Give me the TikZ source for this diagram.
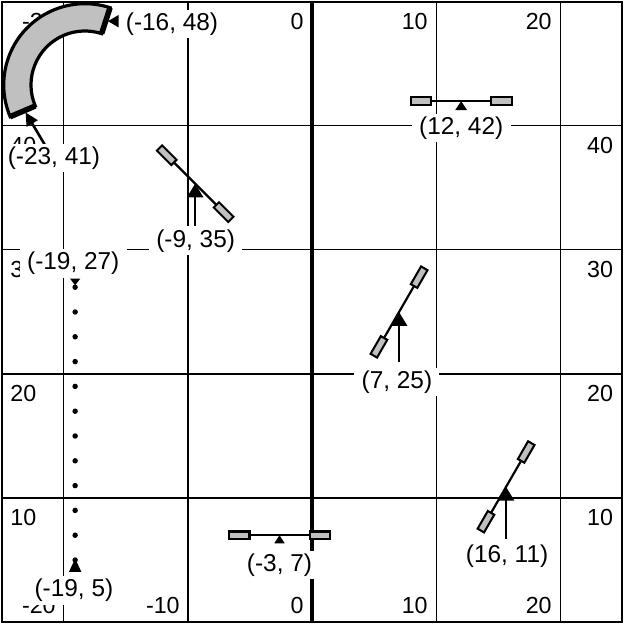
\documentclass[tikz,border=0pt]{standalone}
\usepackage{fontspec}
\setmainfont{Liberation Sans}
\usetikzlibrary{arrows.meta,calc}
\definecolor{bandgray}{RGB}{192,192,192}
\begin{document}
\begin{tikzpicture}[x=0.3cm,y=0.3cm,
  gridline/.style={line width=0.7pt},
  axisline/.style={line width=2.2pt},
  frameline/.style={line width=2pt},
  ticklab/.style={font=\fontsize{16}{19}\selectfont, inner sep=0pt},
  lab/.style={fill=white, inner xsep=5pt, inner ysep=2pt, font=\fontsize{16.8}{19}\selectfont},
  barline/.style={line width=1.5pt},
  endrect/.style={draw, fill=bandgray, line width=1.4pt},
  posearrow/.style={line width=1.8pt, -{Triangle[length=9.5pt,width=11pt]}},
  smallarrow/.style={line width=1.8pt, -{Triangle[length=9pt,width=8.5pt]}},
  band/.style={draw, fill=bandgray, line width=2.2pt},
  pics/wheelbar/.style={code={
     \draw[barline] (-2.42,0) -- (2.42,0);
     \draw[endrect] (-4.07,-0.3) -- (-2.42,-0.3) -- (-2.42,0.3) -- (-4.07,0.3) -- cycle;
     \draw[endrect] (2.42,-0.3) -- (4.07,-0.3) -- (4.07,0.3) -- (2.42,0.3) -- cycle;
  }}
]
\useasboundingbox (-25.16,-0.16) rectangle (25.16,50.16);

% grid
\foreach \x in {-20,-10,10,20} \draw[gridline] (\x,0) -- (\x,50);
\foreach \y in {10,20,30,40} \draw[gridline] (-25,\y) -- (25,\y);
\draw[axisline] (0,0) -- (0,50);

% tick labels
\foreach \x in {-20,-10,0,10,20} {
  \node[ticklab,anchor=east] (xt\x) at (\x-0.65,48.45) {\x};
  \node[ticklab,anchor=east] (xb\x) at (\x-0.65,1.3) {\x};
}
\foreach \y in {10,20,30,40} {
  \node[ticklab,anchor=west] (yl\y) at (-24.35,\y-1.55) {\y};
  \node[ticklab,anchor=east] (yr\y) at (24.3,\y-1.55) {\y};
}

% pose points
\coordinate (pA) at (12.03,42.0);
\coordinate (pB) at (7.02,25.0);
\coordinate (pC) at (15.65,10.9);
\coordinate (pD) at (-9.42,35.35);
\coordinate (pE) at (-2.62,7.0);
\coordinate (pF) at (-19.1,5.1);
\coordinate (pG) at (-19.1,27.15);
\coordinate (pH) at (-16.45,48.45);
\coordinate (pI) at (-23.1,41.1);
\coordinate (arcC) at (-18.31,43.31);
\coordinate (tI) at (-20.9,37.4);

% curved band
\draw[band] ([shift={(72:6.55)}]arcC) arc[start angle=72,end angle=203,radius=6.55]
   -- ([shift={(203:4.35)}]arcC) arc[start angle=203,end angle=72,radius=4.35] -- cycle;
\draw[line width=3.8pt] ([shift={(72:4.35)}]arcC) -- ([shift={(72:6.55)}]arcC);
\draw[line width=3.8pt] ([shift={(203:4.35)}]arcC) -- ([shift={(203:6.55)}]arcC);
\fill (pH) -- ++(0.85,0.5) -- ++(0,-1) -- cycle;
\draw[smallarrow] (tI) -- (pI);

% bars
\pic at (pA) {wheelbar};
\pic at (pE) {wheelbar};
\pic[rotate=60] at (pB) {wheelbar};
\pic[rotate=60] at (pC) {wheelbar};
\pic[rotate=-45] at (pD) {wheelbar};

% small markers
\fill (pA) -- ++(-0.48,-0.72) -- ++(0.96,0) -- cycle;
\fill (pE) -- ++(-0.42,-0.65) -- ++(0.84,0) -- cycle;

% arrows
\draw[posearrow] ($(pB)+(0,-4)$) -- (pB);
\draw[posearrow] ($(pC)+(0,-4.2)$) -- (pC);
\draw[posearrow] ($(pD)+(0,-4)$) -- (pD);

% dotted path
\foreach \y in {5,7,...,27} \fill (-19.1,\y) circle[radius=0.22];
\fill (pF) -- ++(-0.5,-1.05) -- ++(1,0) -- cycle;
\fill (pG) -- ++(-0.42,0.55) -- ++(0.84,0) -- cycle;

% labels
\node[lab] (lH) at (-11.29,48.23) {(-16, 48)};
\node[lab] (lI) at (-20.81,37.42) {(-23, 41)};
\node[lab] (lD) at (-9.38,30.75) {(-9, 35)};
\node[lab] (lA) at (12.03,39.84) {(12, 42)};
\node[lab] (lB) at (6.85,19.35) {(7, 25)};
\node[lab] (lC) at (15.73,5.32) {(16, 11)};
\node[lab] (lE) at (-2.62,4.6) {(-3, 7)};
\node[lab] (lG) at (-19.25,28.9) {(-19, 27)};
\node[lab] (lF) at (-19.2,2.55) {(-19, 5)};

% frame
\draw[frameline] (-25,0) rectangle (25,50);
\end{tikzpicture}
\end{document}
